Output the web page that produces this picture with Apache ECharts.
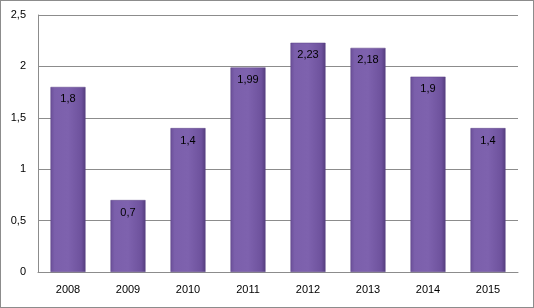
<!DOCTYPE html>
<html>
<head>
<meta charset="utf-8">
<script src="https://cdn.jsdelivr.net/npm/echarts@6/dist/echarts.min.js"></script>
<style>
  html, body { margin: 0; padding: 0; background: #fff; }
  #chart { width: 534px; height: 308px; box-sizing: border-box; border: 1px solid #8c8c8c; }
</style>
</head>
<body>
<div id="chart"></div>
<script>
const years = ['2008', '2009', '2010', '2011', '2012', '2013', '2014', '2015']
const values = [1.8, 0.7, 1.4, 1.99, 2.23, 2.18, 1.9, 1.4]

const comma = (v) => String(v).replace('.', ',')

const chart = echarts.init(document.getElementById('chart'))

const barColor = new echarts.graphic.LinearGradient(0, 0, 1, 0, [
  { offset: 0, color: '#6a4f98' },
  { offset: 0.12, color: '#7b5fab' },
  { offset: 0.5, color: '#7e62ae' },
  { offset: 0.88, color: '#6e529d' },
  { offset: 1, color: '#553d7e' }
])

const option = {
  animation: false,
  textStyle: { fontFamily: 'Liberation Sans, Arial, sans-serif' },
  grid: { left: 37, right: 15, top: 14, bottom: 35 },
  xAxis: {
    type: 'category',
    data: years,
    axisLine: { lineStyle: { color: '#8c8c8c' } },
    axisTick: { show: false },
    axisLabel: { color: '#000', fontSize: 11, margin: 12 }
  },
  yAxis: {
    type: 'value',
    min: 0,
    max: 2.5,
    interval: 0.5,
    axisLine: { show: true, lineStyle: { color: '#8c8c8c' } },
    axisTick: { show: false },
    splitLine: { lineStyle: { color: '#8c8c8c' } },
    axisLabel: { color: '#000', fontSize: 11, margin: 12, formatter: comma }
  },
  series: [
    {
      type: 'bar',
      data: values,
      barWidth: 35,
      itemStyle: {
        color: barColor,
        borderColor: '#5a4185',
        borderWidth: 0.5
      },
      label: {
        show: true,
        position: 'insideTop',
        distance: 7,
        color: '#000',
        fontSize: 11,
        formatter: (p) => comma(p.value)
      }
    }
  ]
}

chart.setOption(option)
</script>
</body>
</html>
